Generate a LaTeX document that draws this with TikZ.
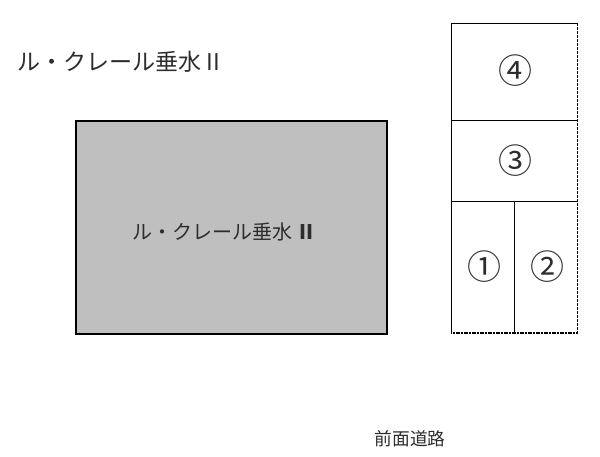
\documentclass[tikz,border=0pt]{standalone}
\usepackage{fontspec}
\setmainfont{Noto Sans CJK JP}
\definecolor{lotgray}{RGB}{191,191,191}
\definecolor{inkgray}{RGB}{45,45,45}
\tikzset{
  px/.style={x=0.75pt,y=-0.75pt},
  lbltitle/.style={inner sep=0pt,text=inkgray,font=\fontsize{17.3pt}{19pt}\selectfont},
  lblbig/.style={inner sep=0pt,text=inkgray,font=\fontsize{15pt}{17pt}\selectfont},
  lblroad/.style={inner sep=0pt,text=inkgray,font=\fontsize{13.3pt}{15pt}\selectfont},
  num/.style={inner sep=0pt,text=inkgray,font=\fontsize{25.5pt}{28pt}\selectfont},
  lot/.style={draw=black,line width=0.6pt},
}
\begin{document}
\begin{tikzpicture}[px]
\useasboundingbox (0,0) rectangle (600,457);
\fill[white] (0,0) rectangle (600,457);
\node[draw=black,fill=lotgray,line width=1.5pt,outer sep=0pt,minimum width=233.25pt,minimum height=159.75pt,inner sep=0pt,anchor=north west] (big) at (76,121) {};
\node[lblbig,anchor=west] (biglabel) at (132,232) {ル・クレール垂水 \textbf{Ⅱ}};
\node[lbltitle,anchor=west] (title) at (17,62) {ル・クレール垂水 II};
\node[lblroad] (road) at (410,439) {前面道路};
\draw[lot] (577.5,23) -- (451,23) -- (451,333);
\draw[lot] (451,120.5) -- (577.5,120.5);
\draw[lot] (451,201) -- (577.5,201);
\draw[lot] (514.5,201) -- (514.5,333);
\draw[draw=black,line width=0.5pt,dash pattern=on 2pt off 1pt] (577.5,23) -- (577.5,333);
\draw[draw=black,line width=0.9pt,dash pattern=on 1.5pt off 0.5pt] (577.5,333) -- (451,333);
\node[num] (n4) at (515,71) {④};
\node[num] (n3) at (515,161) {③};
\node[num] (n1) at (484,267) {①};
\node[num] (n2) at (547,267) {②};
\end{tikzpicture}
\end{document}
